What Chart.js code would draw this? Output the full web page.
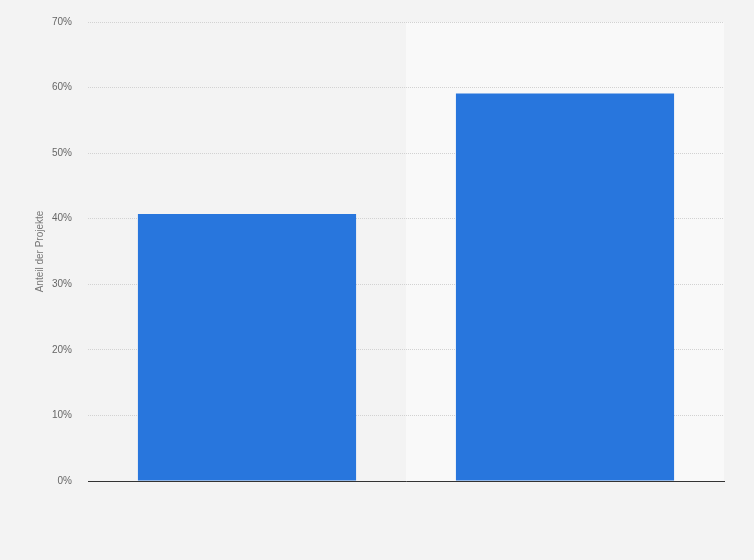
<!DOCTYPE html>
<html>
<head>
<meta charset="utf-8">
<script src="https://cdn.jsdelivr.net/npm/chart.js@4"></script>
<style>
  html, body { margin: 0; padding: 0; background: #f3f3f3; }
  #wrap { width: 754px; height: 560px; }
</style>
</head>
<body>
<div id="wrap"><canvas id="canvas"></canvas></div>
<script>
// values
var categories = ['Projekte A', 'Projekte B'];
var shares = [40.7, 59.1];
var yTicks = [0, 10, 20, 30, 40, 50, 60, 70];

// light band behind the second category (hover highlight in the original)
var highlight = {
    id: 'highlight',
    beforeDraw: function (chart) {
        var ctx = chart.ctx;
        var area = chart.chartArea;
        var x = chart.scales.x;
        var half = (x.getPixelForValue(1) - x.getPixelForValue(0)) / 2;
        var left = x.getPixelForValue(1) - half;
        ctx.save();
        ctx.fillStyle = '#f9f9f9';
        ctx.fillRect(left, area.top, area.right - left, area.bottom - area.top);
        ctx.restore();
    }
};

var ctx = document.getElementById('canvas').getContext('2d');
var chart = new Chart(ctx, {
    type: 'bar',
    data: {
        labels: categories,
        datasets: [{
            data: shares,
            backgroundColor: '#2876dd',
            borderWidth: 0,
            barPercentage: 1,
            categoryPercentage: 0.686
        }]
    },
    options: {
        responsive: true,
        maintainAspectRatio: false,
        animation: false,
        layout: { padding: { top: 12, right: 30, bottom: 71, left: 0 } },
        plugins: { legend: { display: false }, tooltip: { enabled: false } },
        scales: {
            x: {
                ticks: { display: false },
                grid: { display: false },
                border: { display: true, color: '#333', width: 1 }
            },
            y: {
                min: 0,
                max: 70,
                afterBuildTicks: function (scale) {
                    scale.ticks = yTicks.map(function (v) { return { value: v }; });
                },
                afterFit: function (scale) { scale.width = 88; },
                ticks: {
                    color: '#666',
                    font: { family: 'Arial, "Liberation Sans"', size: 10 },
                    padding: 16,
                    callback: function (v) { return v + '%'; }
                },
                grid: {
                    color: '#d2d2d2',
                    drawTicks: false
                },
                border: { display: false, dash: [1, 1] },
                title: {
                    display: true,
                    text: 'Anteil der Projekte',
                    color: '#777',
                    font: { family: 'Arial, "Liberation Sans"', size: 10 },
                    padding: { top: 34, bottom: 0 }
                }
            }
        }
    },
    plugins: [highlight]
});
</script>
</body>
</html>
